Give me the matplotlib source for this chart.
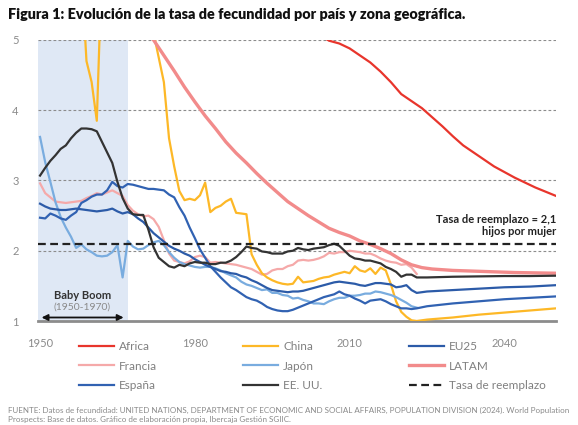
import matplotlib.pyplot as plt
import numpy as np

plt.rcParams['font.family'] = ['Lato', 'DejaVu Sans']

# ---- data (tasa de fecundidad, hijos por mujer) ----
africa_years = [2000, 2004, 2006, 2008, 2010, 2012, 2014, 2016, 2018, 2020, 2022, 2024,
                2026, 2028, 2030, 2032, 2034, 2036, 2038, 2040, 2042, 2044, 2046, 2048, 2050]
africa = [5.35, 5.08, 4.99, 4.95, 4.88, 4.78, 4.68, 4.55, 4.40, 4.23, 4.13, 4.03,
          3.90, 3.77, 3.63, 3.50, 3.40, 3.30, 3.20, 3.12, 3.04, 2.97, 2.90, 2.84, 2.78]

latam_years = [1965, 1970, 1972, 1974, 1976, 1978, 1980, 1982, 1984, 1986, 1988, 1990,
               1992, 1994, 1996, 1998, 2000, 2002, 2004, 2006, 2008, 2010, 2012, 2014,
               2016, 2018, 2020, 2022, 2024, 2026, 2028, 2030, 2034, 2038, 2042, 2046, 2050]
latam = [5.60, 5.15, 5.00, 4.78, 4.56, 4.33, 4.12, 3.92, 3.74, 3.55, 3.39, 3.25,
         3.10, 2.96, 2.83, 2.70, 2.60, 2.50, 2.41, 2.32, 2.26, 2.21, 2.14, 2.09,
         2.03, 1.96, 1.87, 1.80, 1.76, 1.74, 1.73, 1.72, 1.71, 1.70, 1.69, 1.685, 1.68]

china_years = [1950, 1955, 1957, 1958, 1959, 1960, 1961, 1962, 1963, 1965, 1970, 1971,
               1972, 1973, 1974, 1975, 1976, 1977, 1978, 1979, 1980, 1981, 1982, 1983,
               1984, 1985, 1986, 1987, 1988, 1989, 1990, 1991, 1992, 1993, 1994, 1995,
               1996, 1997, 1998, 1999, 2000, 2001, 2002, 2003, 2004, 2005, 2006, 2007,
               2008, 2009, 2010, 2011, 2012, 2013, 2014, 2015, 2016, 2017, 2018, 2019,
               2020, 2021, 2022, 2023, 2025, 2030, 2035, 2040, 2045, 2050]
china = [5.8, 6.0, 6.2, 6.0, 4.7, 4.4, 3.85, 6.1, 7.5, 6.4, 6.1, 5.5,
         5.1, 4.75, 4.4, 3.6, 3.2, 2.85, 2.72, 2.74, 2.72, 2.79, 2.97, 2.55,
         2.61, 2.64, 2.70, 2.74, 2.54, 2.53, 2.52, 1.95, 1.80, 1.68, 1.62, 1.58,
         1.55, 1.53, 1.52, 1.53, 1.63, 1.55, 1.56, 1.57, 1.60, 1.62, 1.63, 1.66,
         1.68, 1.70, 1.68, 1.78, 1.72, 1.70, 1.75, 1.67, 1.76, 1.72, 1.52, 1.28,
         1.13, 1.06, 1.01, 1.00, 1.02, 1.05, 1.09, 1.12, 1.15, 1.18]

hist_years = list(range(1950, 2024))
japon = [3.62, 3.26, 2.98, 2.69, 2.48, 2.33, 2.20, 2.04, 2.09, 2.02,
         1.98, 1.93, 1.92, 1.93, 1.98, 2.08, 1.62, 2.14, 2.06, 2.02,
         2.03, 2.08, 2.12, 2.14, 2.08, 1.98, 1.90, 1.84, 1.81, 1.79,
         1.77, 1.76, 1.77, 1.77, 1.75, 1.72, 1.68, 1.65, 1.62, 1.56,
         1.52, 1.50, 1.47, 1.44, 1.45, 1.40, 1.40, 1.37, 1.36, 1.32,
         1.33, 1.30, 1.28, 1.25, 1.25, 1.24, 1.28, 1.31, 1.33, 1.33,
         1.36, 1.36, 1.37, 1.39, 1.39, 1.42, 1.41, 1.39, 1.37, 1.34,
         1.30, 1.26, 1.21, 1.19]

francia = [2.96, 2.82, 2.76, 2.70, 2.69, 2.68, 2.69, 2.70, 2.71, 2.75,
           2.78, 2.82, 2.80, 2.83, 2.86, 2.82, 2.78, 2.65, 2.57, 2.52,
           2.49, 2.50, 2.45, 2.34, 2.15, 1.96, 1.86, 1.84, 1.82, 1.85,
           1.91, 1.93, 1.91, 1.83, 1.84, 1.83, 1.82, 1.81, 1.80, 1.78,
           1.76, 1.74, 1.70, 1.66, 1.67, 1.72, 1.74, 1.74, 1.78, 1.80,
           1.86, 1.87, 1.86, 1.87, 1.89, 1.92, 1.97, 1.96, 1.98, 1.98,
           2.00, 1.99, 1.98, 1.96, 1.96, 1.93, 1.89, 1.86, 1.84, 1.83,
           1.80, 1.81, 1.76, 1.67]

proj_years = [2025, 2030, 2035, 2040, 2045, 2050]

eeuu = [3.07, 3.18, 3.28, 3.36, 3.45, 3.50, 3.60, 3.68, 3.74, 3.74,
        3.73, 3.70, 3.55, 3.40, 3.25, 2.98, 2.75, 2.60, 2.52, 2.51,
        2.51, 2.30, 2.05, 1.90, 1.84, 1.78, 1.76, 1.80, 1.78, 1.82,
        1.84, 1.83, 1.83, 1.81, 1.81, 1.83, 1.83, 1.86, 1.91, 1.98,
        2.06, 2.04, 2.03, 1.99, 1.98, 1.96, 1.96, 1.96, 1.99, 2.00,
        2.04, 2.02, 2.01, 2.03, 2.04, 2.05, 2.08, 2.10, 2.07, 2.00,
        1.93, 1.89, 1.88, 1.86, 1.86, 1.84, 1.82, 1.77, 1.74, 1.70,
        1.63, 1.66, 1.66, 1.62]
eeuu_proj = [1.62, 1.63, 1.635, 1.64, 1.64, 1.645]

espana = [2.47, 2.46, 2.53, 2.50, 2.46, 2.44, 2.50, 2.55, 2.68, 2.72,
          2.77, 2.80, 2.80, 2.86, 2.98, 2.92, 2.90, 2.95, 2.94, 2.92,
          2.90, 2.88, 2.88, 2.87, 2.86, 2.80, 2.76, 2.62, 2.50, 2.33,
          2.18, 2.02, 1.90, 1.78, 1.70, 1.62, 1.55, 1.48, 1.44, 1.39,
          1.34, 1.31, 1.29, 1.25, 1.20, 1.17, 1.15, 1.14, 1.14, 1.16,
          1.19, 1.22, 1.25, 1.28, 1.31, 1.34, 1.36, 1.38, 1.42, 1.38,
          1.36, 1.32, 1.29, 1.25, 1.29, 1.30, 1.31, 1.28, 1.24, 1.21,
          1.18, 1.18, 1.17, 1.18]
espana_proj = [1.21, 1.25, 1.28, 1.31, 1.33, 1.35]

eu25 = [2.67, 2.63, 2.60, 2.59, 2.58, 2.58, 2.59, 2.60, 2.59, 2.58,
        2.57, 2.56, 2.57, 2.58, 2.60, 2.56, 2.53, 2.55, 2.52, 2.46,
        2.41, 2.33, 2.25, 2.19, 2.13, 2.07, 2.03, 2.00, 1.96, 1.93,
        1.88, 1.84, 1.80, 1.77, 1.74, 1.71, 1.70, 1.68, 1.67, 1.64,
        1.62, 1.58, 1.55, 1.51, 1.47, 1.44, 1.43, 1.42, 1.41, 1.42,
        1.42, 1.43, 1.45, 1.47, 1.49, 1.51, 1.53, 1.55, 1.56, 1.55,
        1.54, 1.53, 1.51, 1.50, 1.52, 1.54, 1.54, 1.53, 1.52, 1.48,
        1.49, 1.51, 1.44, 1.40]
eu25_proj = [1.42, 1.44, 1.46, 1.48, 1.49, 1.51]

reemplazo = 2.1

# ---- figure ----
fig = plt.figure(figsize=(5.78, 4.25), dpi=100)
ax = fig.add_axes([0.0657, 0.2447, 0.8963, 0.6612])

ax.axvspan(1949.6, 1967, color='#DFE8F5', zorder=0, lw=0)

for v in [2, 3, 4, 5]:
    ax.axhline(v, color='#8c8c8c', lw=0.8, ls=(0, (2.5, 2)), zorder=1)

lw = 1.6
ax.plot(africa_years, africa, color='#E8352C', lw=lw, label='Africa', zorder=3)
ax.plot(hist_years, francia, color='#F5A9A9', lw=lw, label='Francia', zorder=3)
ax.plot(hist_years + proj_years, espana + espana_proj, color='#3162B2', lw=lw, label='España', zorder=4)
ax.plot(china_years, china, color='#FDB827', lw=lw, label='China', zorder=3)
ax.plot(hist_years, japon, color='#79ACDF', lw=lw, label='Japón', zorder=3)
ax.plot(hist_years + proj_years, eeuu + eeuu_proj, color='#333333', lw=lw, label='EE. UU.', zorder=5)
ax.plot(hist_years + proj_years, eu25 + eu25_proj, color='#2C5BA8', lw=lw, label='EU25', zorder=4)
ax.plot(latam_years, latam, color='#F28B8B', lw=2.4, label='LATAM', zorder=3)
ax.axhline(reemplazo, color='#222222', lw=1.6, ls=(0, (3.5, 2)), label='Tasa de reemplazo', zorder=6)

ax.set_xlim(1949.6, 2050)
ax.set_ylim(1, 5)
ax.set_yticks([1, 2, 3, 4, 5])
ax.set_xticks([1950, 1980, 2010, 2040])
ax.tick_params(axis='both', length=0, labelsize=8, labelcolor='#8a8a8a')
ax.tick_params(axis='x', pad=12)
ax.tick_params(axis='y', pad=14)
for s in ['top', 'right', 'left']:
    ax.spines[s].set_visible(False)
ax.spines['bottom'].set_color('#8c8c8c')
ax.spines['bottom'].set_linewidth(2)

# anotaciones
ax.text(2050, 2.19, 'Tasa de reemplazo = 2,1\nhijos por mujer', ha='right', va='bottom',
        fontsize=8, fontweight='bold', color='#222222', linespacing=1.15)
ax.text(1958.2, 1.36, 'Baby Boom', ha='center', va='center', fontsize=8,
        fontweight='bold', color='#333333')
ax.text(1958.2, 1.2, '(1950-1970)', ha='center', va='center', fontsize=7.5, color='#8a8a8a')
ax.annotate('', xy=(1950.3, 1.05), xytext=(1966.2, 1.05),
            arrowprops=dict(arrowstyle='<|-|>', color='#111111', lw=1.3,
                            mutation_scale=9, shrinkA=0, shrinkB=0))

fig.text(0.014, 0.966, 'Figura 1: Evolución de la tasa de fecundidad por país y zona geográfica.',
         fontsize=10.4, fontweight='heavy', color='#111111', va='center')

leg = fig.legend(loc='upper left', bbox_to_anchor=(0.136, 0.197), ncol=3, frameon=False,
                 fontsize=8.5, handlelength=3.0, handletextpad=0.4, columnspacing=7.3,
                 labelspacing=0.7, borderaxespad=0, borderpad=0)
for t in leg.get_texts():
    t.set_color('#808080')

fig.text(0.014, 0.024,
         'FUENTE: Datos de fecundidad: UNITED NATIONS, DEPARTMENT OF ECONOMIC AND SOCIAL AFFAIRS, '
         'POPULATION DIVISION (2024). World Population\n'
         'Prospects: Base de datos. Gráfico de elaboración propia, Ibercaja Gestión SGIIC.',
         fontsize=5.8, color='#8a8a8a', va='center', linespacing=1.45)

fig.savefig('out.png', dpi=100)
